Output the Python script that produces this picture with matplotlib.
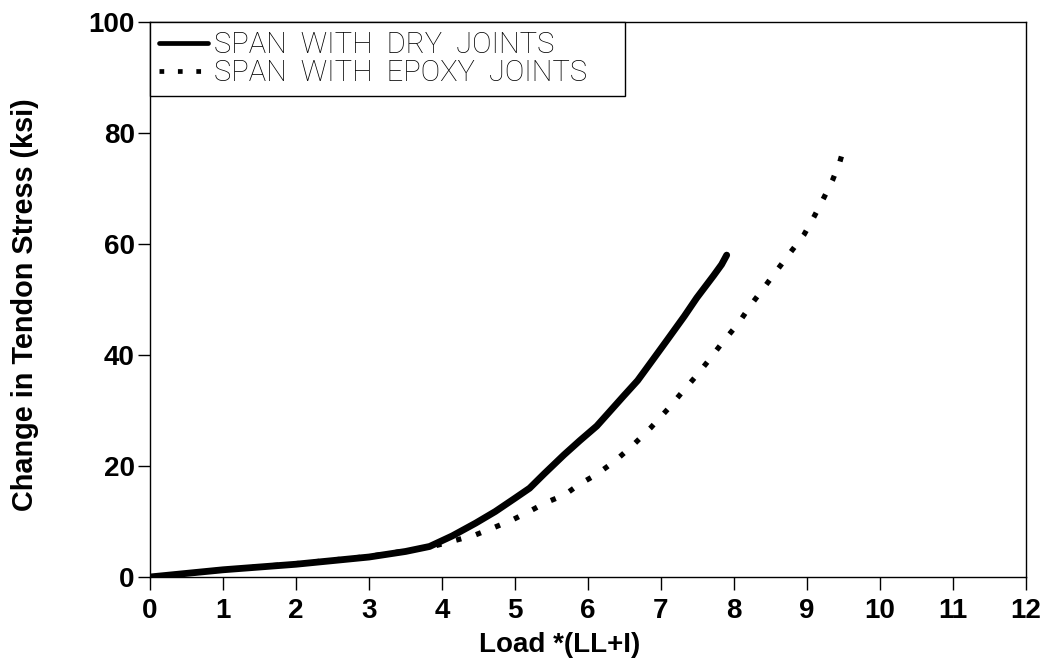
import matplotlib
matplotlib.use("Agg")
import matplotlib.pyplot as plt
from matplotlib.font_manager import FontProperties

# Change in tendon stress vs. applied load, dry vs. epoxy joints
load_dry = [0.0, 1.0, 2.0, 3.0, 3.5, 3.83, 4.14, 4.46, 4.73, 5.0, 5.2, 5.4,
            5.67, 5.89, 6.12, 6.29, 6.48, 6.68, 6.88, 7.09, 7.32, 7.49, 7.72,
            7.83, 7.9]
stress_dry = [0.0, 1.3, 2.3, 3.6, 4.6, 5.5, 7.4, 9.7, 11.8, 14.2, 16.0, 18.6,
              22.0, 24.6, 27.2, 29.7, 32.5, 35.4, 39.0, 42.8, 47.0, 50.3, 54.3,
              56.3, 58.0]

load_epoxy = [0.0, 1.0, 2.0, 3.0, 3.5, 3.9, 4.21, 4.46, 4.71, 4.95, 5.18,
              5.42, 5.68, 5.88, 6.12, 6.37, 6.62, 6.86, 7.09, 7.27, 7.48, 7.67,
              7.85, 8.06, 8.23, 8.42, 8.59, 8.78, 8.96, 9.10, 9.23, 9.35, 9.45,
              9.52]
stress_epoxy = [0.0, 1.3, 2.4, 3.7, 4.7, 5.6, 6.7, 7.6, 8.9, 10.2, 11.7,
                13.4, 14.8, 16.7, 18.5, 20.9, 23.8, 26.9, 30.2, 33.0, 36.2,
                39.3, 42.4, 45.7, 49.0, 52.3, 55.3, 58.6, 61.7, 65.0, 68.3,
                71.5, 74.8, 78.0]

series_labels = ["SPAN  WITH  DRY  JOINTS", "SPAN  WITH  EPOXY  JOINTS"]
x_ticks = list(range(0, 13))
y_ticks = [0, 20, 40, 60, 80, 100]

plt.rcParams["font.family"] = ["Liberation Sans", "DejaVu Sans"]

fig = plt.figure(figsize=(10.43, 6.63), dpi=100)
ax = fig.add_axes([150 / 1043, 86 / 663, 876 / 1043, 555 / 663])

ax.plot(load_dry, stress_dry, color="black", lw=4.9,
        solid_capstyle="round", solid_joinstyle="round",
        label=series_labels[0], zorder=3)
ax.plot(load_epoxy, stress_epoxy, color="black", lw=3.8,
        linestyle=(0, (1, 2.9)), dash_capstyle="butt",
        label=series_labels[1], zorder=2)

ax.set_xlim(0, 12)
ax.set_ylim(0, 100)
ax.set_xticks(x_ticks)
ax.set_yticks(y_ticks)

for side in ["left", "bottom", "top", "right"]:
    ax.spines[side].set_linewidth(1.0)
    ax.spines[side].set_color("black")

ax.tick_params(axis="both", direction="out", length=9, width=1.0,
               color="black")
ax.tick_params(axis="x", pad=6)
ax.tick_params(axis="y", pad=2)
for lab in ax.get_xticklabels() + ax.get_yticklabels():
    lab.set_fontsize(20)
    lab.set_fontweight("bold")

ax.set_xlabel("Load *(LL+I)", fontsize=20, fontweight="bold")
ax.xaxis.set_label_coords(0.468, -0.100)
ax.set_ylabel("Change in Tendon Stress (ksi)", fontsize=20.8,
              fontweight="bold")
ax.yaxis.set_label_coords(-0.127, 0.49)

leg_font = FontProperties(family="Roboto", weight="light", size=21)
leg = ax.legend(loc="upper left", bbox_to_anchor=(0, 0, 0.542, 1.0),
                mode="expand", borderaxespad=0,
                prop=leg_font, frameon=True, fancybox=False,
                handlelength=1.7, handletextpad=0.2, borderpad=0.3,
                labelspacing=0.02)
leg.get_frame().set_edgecolor("black")
leg.get_frame().set_linewidth(1.0)
leg.get_frame().set_alpha(1)
for h in leg.legend_handles:
    h.set_linewidth(3.4)

fig.savefig("out.png", dpi=100, facecolor="white")
